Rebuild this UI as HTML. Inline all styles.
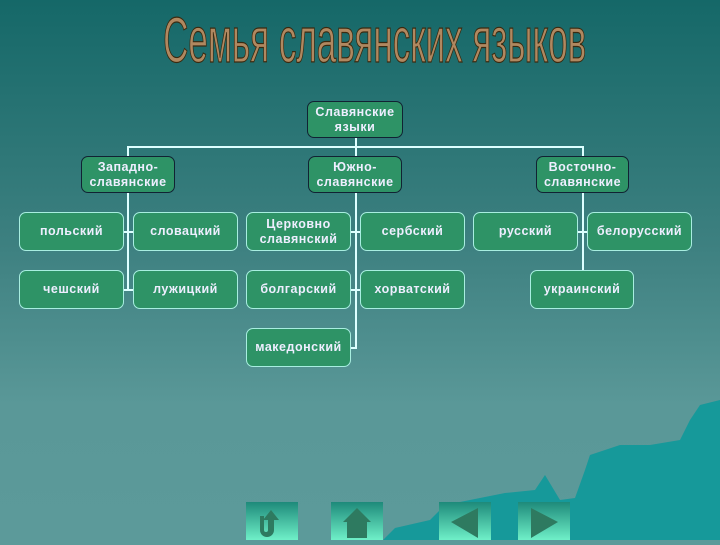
<!DOCTYPE html>
<html><head><meta charset="utf-8"><style>
html{background:#5c9a9a}
body{margin:0;width:720px;height:540px;overflow:hidden;position:relative;background:linear-gradient(#156868,#3d8080 45%,#5a9898 75%,#5c9a9a);font-family:"Liberation Sans","DejaVu Sans",sans-serif}
.b{position:absolute;background:#2e9366;color:#eef;font-weight:bold;font-size:12.5px;letter-spacing:0.5px;display:flex;align-items:center;justify-content:center;text-align:center;line-height:15px;border-radius:7px;box-sizing:border-box}
.d{border:1.5px solid #123;}
.l{border:1.5px solid #a8eee0;}
.ln{position:absolute;background:#dff;}
.t{position:absolute;left:0px;width:720px;top:3px;text-align:center;font-size:64px;color:#b08860;-webkit-text-stroke:1.2px #3a2a10;font-family:"Liberation Sans",sans-serif;transform:scaleX(0.547);transform-origin:center;white-space:nowrap}
.btn{position:absolute;top:502px;width:52px;height:38px;background:linear-gradient(#1e8a7a,#6ff0c8)}
</style></head><body>
<div class="t">Семья славянских языков</div>
<svg style="position:absolute;left:0;top:0" width="720" height="540"><path d="M383 540 L395 528 L430 520 L445 505 L470 500 L505 493 L535 490 L545 475 L560 500 L575 498 L585 470 L590 455 L620 445 L650 445 L680 440 L690 420 L700 405 L720 400 L720 540Z" fill="#16999a"/></svg>
<div class="ln" style="left:355px;top:138px;width:2px;height:10px"></div>
<div class="ln" style="left:127px;top:146px;width:457px;height:2px"></div>
<div class="ln" style="left:127px;top:146px;width:2px;height:145px"></div>
<div class="ln" style="left:355px;top:146px;width:2px;height:203px"></div>
<div class="ln" style="left:582px;top:146px;width:2px;height:125px"></div>
<div class="ln" style="left:124px;top:231px;width:9px;height:2px"></div>
<div class="ln" style="left:124px;top:289px;width:9px;height:2px"></div>
<div class="ln" style="left:351px;top:231px;width:9px;height:2px"></div>
<div class="ln" style="left:351px;top:289px;width:9px;height:2px"></div>
<div class="ln" style="left:351px;top:347px;width:5px;height:2px"></div>
<div class="ln" style="left:578px;top:231px;width:9px;height:2px"></div>
<div class="b d" style="left:307px;top:101px;width:96px;height:37px">Славянские<br>языки</div>
<div class="b d" style="left:81px;top:156px;width:94px;height:37px">Западно-<br>славянские</div>
<div class="b d" style="left:308px;top:156px;width:94px;height:37px">Южно-<br>славянские</div>
<div class="b d" style="left:536px;top:156px;width:93px;height:37px">Восточно-<br>славянские</div>
<div class="b l" style="left:19px;top:212px;width:105px;height:39px">польский</div>
<div class="b l" style="left:133px;top:212px;width:105px;height:39px">словацкий</div>
<div class="b l" style="left:246px;top:212px;width:105px;height:39px">Церковно<br>славянский</div>
<div class="b l" style="left:360px;top:212px;width:105px;height:39px">сербский</div>
<div class="b l" style="left:473px;top:212px;width:105px;height:39px">русский</div>
<div class="b l" style="left:587px;top:212px;width:105px;height:39px">белорусский</div>
<div class="b l" style="left:19px;top:270px;width:105px;height:39px">чешский</div>
<div class="b l" style="left:133px;top:270px;width:105px;height:39px">лужицкий</div>
<div class="b l" style="left:246px;top:270px;width:105px;height:39px">болгарский</div>
<div class="b l" style="left:360px;top:270px;width:105px;height:39px">хорватский</div>
<div class="b l" style="left:530px;top:270px;width:104px;height:39px">украинский</div>
<div class="b l" style="left:246px;top:328px;width:105px;height:39px">македонский</div>
<div class="btn" style="left:246px"><svg width="52" height="38"><path d="M14 14 v14 a7 7 0 0 0 14 0 v-10 h5 l-8 -10 -8 10 h5 v10 a2 2 0 0 1 -4 0 v-14z" fill="#2e7a60"/></svg></div>
<div class="btn" style="left:331px"><svg width="52" height="38"><path d="M12 20 L26 6 L40 20Z M16 20 h20 v16 h-20z" fill="#2e7a60"/></svg></div>
<div class="btn" style="left:439px"><svg width="52" height="38"><path d="M12 20 L39 6 L39 36Z" fill="#2e7a60"/></svg></div>
<div class="btn" style="left:518px"><svg width="52" height="38"><path d="M40 20 L13 6 L13 36Z" fill="#2e7a60"/></svg></div>
</body></html>
